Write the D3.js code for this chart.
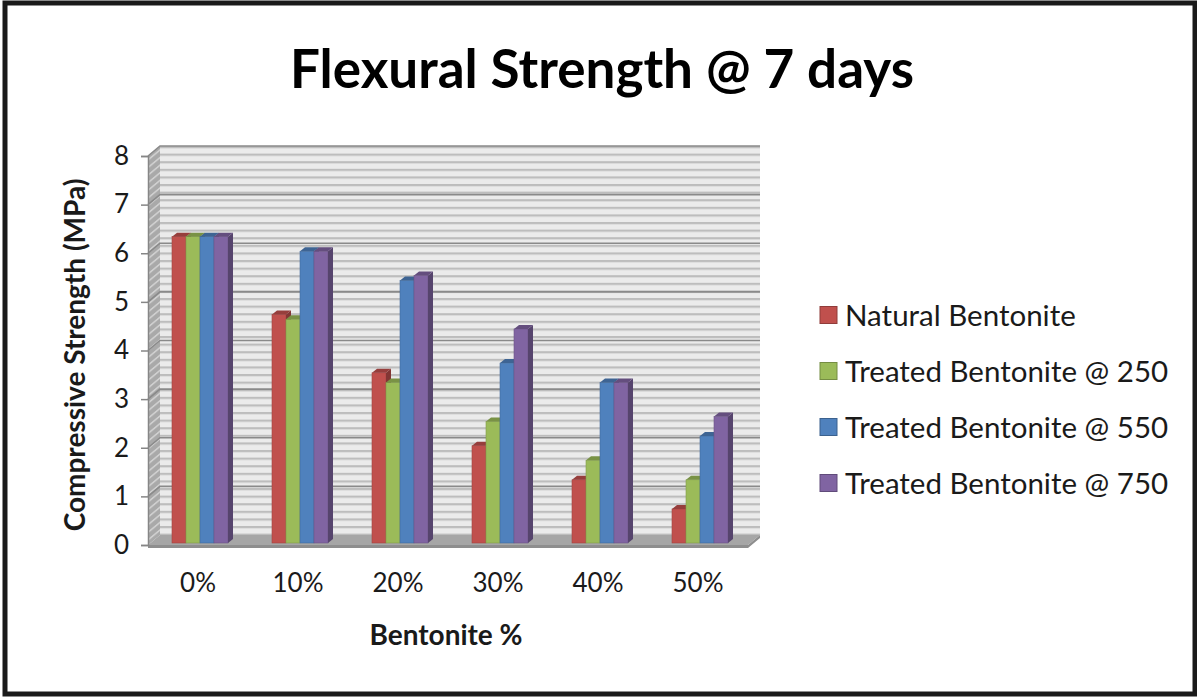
<!DOCTYPE html>
<html>
<head>
<meta charset="utf-8">
<script src="https://cdn.jsdelivr.net/npm/d3@7"></script>
<style>
  body { margin: 0; background: #fff; }
  svg { display: block; font-family: Lato, "Open Sans", sans-serif; }
</style>
</head>
<body>
<svg id="chart" width="1197" height="697"></svg>
<script>
// Bentonite replacement levels and flexural strength results (MPa)
const categories = ["0%", "10%", "20%", "30%", "40%", "50%"];
const seriesNames = ["Natural Bentonite", "Treated Bentonite @ 250", "Treated Bentonite @ 550", "Treated Bentonite @ 750"];
const natural    = [6.3, 4.7, 3.5, 2.0, 1.3, 0.7];
const treated250 = [6.3, 4.6, 3.3, 2.5, 1.7, 1.3];
const treated550 = [6.3, 6.0, 5.4, 3.7, 3.3, 2.2];
const treated750 = [6.3, 6.0, 5.5, 4.4, 3.3, 2.6];
const yTicks = [0, 1, 2, 3, 4, 5, 6, 7, 8];
const seriesColors = ["#C0504D", "#9BBB59", "#4F81BD", "#8064A2"];

const seriesValues = [natural, treated250, treated550, treated750];

const svg = d3.select("#chart");

// outer frame
svg.append("rect")
  .attr("x", 5).attr("y", 3).attr("width", 1190).attr("height", 691)
  .attr("fill", "#fff").attr("stroke", "#1a1a1a").attr("stroke-width", 5);

// title
svg.append("text")
  .attr("x", 602).attr("y", 88)
  .attr("text-anchor", "middle")
  .attr("font-weight", 700).attr("font-size", 53)
  .attr("fill", "#000")
  .text("Flexural Strength @ 7 days");

// scales (front plane of the 3-D box)
const x = d3.scaleBand().domain(categories).range([148, 748]);
const sub = d3.scaleBand().domain(seriesNames).range([-28, 28]);
const y = d3.scaleLinear().domain([0, 8]).range([545, 156]);

// depth offsets
const wallDx = 12, wallDy = -10;   // back wall
const barDx = 2, barDy = -2;       // bar front faces
const barDepthX = 5, barDepthY = -4;

const defs = svg.append("defs");

// narrow horizontal stripes on the back wall
const wallPat = defs.append("pattern")
  .attr("id", "wallStripes")
  .attr("patternUnits", "userSpaceOnUse")
  .attr("width", 20).attr("height", 7.6)
  .attr("y", y(8) + wallDy);
wallPat.append("rect").attr("width", 20).attr("height", 7.6).attr("fill", "#ebebeb");
wallPat.append("rect").attr("y", 0).attr("width", 20).attr("height", 2.2).attr("fill", "#bdbdbd");

// same stripes seen on the side wall, sheared by the depth angle
const sidePat = defs.append("pattern")
  .attr("id", "sideStripes")
  .attr("patternUnits", "userSpaceOnUse")
  .attr("width", 12).attr("height", 7.6)
  .attr("patternTransform", `translate(148,${y(8)}) skewY(${Math.atan2(wallDy, wallDx) * 180 / Math.PI})`);
sidePat.append("rect").attr("width", 12).attr("height", 7.6).attr("fill", "#a9a9a9");
sidePat.append("rect").attr("y", 3).attr("width", 12).attr("height", 2).attr("fill", "#d2d2d2");

const yTop = y(8), yBase = y(0);
const xL = x.range()[0], xR = x.range()[1];

// back wall
svg.append("rect")
  .attr("x", xL + wallDx).attr("y", yTop + wallDy)
  .attr("width", xR - xL).attr("height", yBase - yTop)
  .attr("fill", "url(#wallStripes)");

// side wall
svg.append("polygon")
  .attr("points", [[xL, yTop], [xL + wallDx, yTop + wallDy], [xL + wallDx, yBase + wallDy], [xL, yBase]].join(" "))
  .attr("fill", "url(#sideStripes)");

// major gridlines on back and side walls
const grid = svg.append("g").attr("stroke", "#8a8a8a").attr("stroke-width", 1.6).attr("fill", "none");
grid.selectAll("path").data(yTicks.filter(d => d > 0)).join("path")
  .attr("d", d => `M${xL},${y(d)} L${xL + wallDx},${y(d) + wallDy} L${xR + wallDx},${y(d) + wallDy}`);

// floor
svg.append("polygon")
  .attr("points", [[xL, yBase], [xL + wallDx, yBase + wallDy], [xR + wallDx, yBase + wallDy], [xR, yBase]].join(" "))
  .attr("fill", "#a6a6a6");
svg.append("polygon")
  .attr("points", [[xL, yBase], [xR, yBase], [xR + wallDx, yBase + wallDy], [xR + wallDx, yBase + wallDy + 3], [xR, yBase + 3], [xL, yBase + 3]].join(" "))
  .attr("fill", "#8e8e8e");

// y axis
const yAxis = d3.axisLeft(y).tickValues(yTicks).tickSize(7).tickPadding(12).tickFormat(d3.format("d"));
const yAxisG = svg.append("g").attr("transform", `translate(${xL},0)`).call(yAxis);
yAxisG.select(".domain").attr("stroke", "#868686").attr("stroke-width", 1.5);
yAxisG.selectAll(".tick line").attr("stroke", "#868686").attr("stroke-width", 1.5);
yAxisG.selectAll(".tick text")
  .attr("font-family", "Lato, sans-serif").attr("font-size", 26).attr("fill", "#1a1a1a");

// x axis labels
const xAxis = d3.axisBottom(x).tickSize(0).tickPadding(29);
const xAxisG = svg.append("g").attr("transform", `translate(0,${yBase})`).call(xAxis);
xAxisG.select(".domain").remove();
xAxisG.selectAll(".tick text")
  .attr("font-family", "Lato, sans-serif").attr("font-size", 26).attr("fill", "#1a1a1a");

// 3-D bars, drawn left to right so neighbours overlap correctly
const bars = [];
categories.forEach((c, ci) => {
  seriesNames.forEach((s, si) => {
    bars.push({ cat: c, series: s, value: seriesValues[si][ci], color: seriesColors[si] });
  });
});

const barG = svg.append("g");
const bw = sub.bandwidth();
bars.forEach(b => {
  const x0 = x(b.cat) + x.bandwidth() / 2 + sub(b.series) + barDx;
  const yT = y(b.value) + barDy;
  const yB = y(0) + barDy;
  const c = d3.color(b.color);
  const g = barG.append("g");
  // front face
  g.append("rect")
    .attr("x", x0).attr("y", yT).attr("width", bw).attr("height", yB - yT)
    .attr("fill", b.color)
    .attr("stroke", c.darker(0.5)).attr("stroke-width", 0.6);
  // right side face
  g.append("polygon")
    .attr("points", [[x0 + bw, yT], [x0 + bw + barDepthX, yT + barDepthY], [x0 + bw + barDepthX, yB + barDepthY], [x0 + bw, yB]].join(" "))
    .attr("fill", c.darker(1.1));
  // top face
  g.append("polygon")
    .attr("points", [[x0, yT], [x0 + barDepthX, yT + barDepthY], [x0 + bw + barDepthX, yT + barDepthY], [x0 + bw, yT]].join(" "))
    .attr("fill", c.darker(0.7));
});

// axis titles
svg.append("text")
  .attr("transform", `translate(85,355) rotate(-90)`)
  .attr("text-anchor", "middle")
  .attr("font-weight", 700).attr("font-size", 28).attr("fill", "#1a1a1a")
  .text("Compressive Strength (MPa)");

svg.append("text")
  .attr("x", 446).attr("y", 645)
  .attr("text-anchor", "middle")
  .attr("font-weight", 700).attr("font-size", 28).attr("fill", "#1a1a1a")
  .text("Bentonite %");

// legend
const legend = svg.append("g").attr("transform", "translate(820,315)");
const items = legend.selectAll("g").data(seriesNames).join("g")
  .attr("transform", (d, i) => `translate(0,${i * 56})`);
items.append("rect")
  .attr("x", 0).attr("y", -8.5).attr("width", 17).attr("height", 17)
  .attr("fill", (d, i) => seriesColors[i])
  .attr("stroke", (d, i) => d3.color(seriesColors[i]).darker(0.8)).attr("stroke-width", 1);
items.append("text")
  .attr("x", 25).attr("y", 0).attr("dy", "0.36em")
  .attr("font-size", 29.5).attr("fill", "#1a1a1a")
  .text(d => d);
</script>
</body>
</html>
